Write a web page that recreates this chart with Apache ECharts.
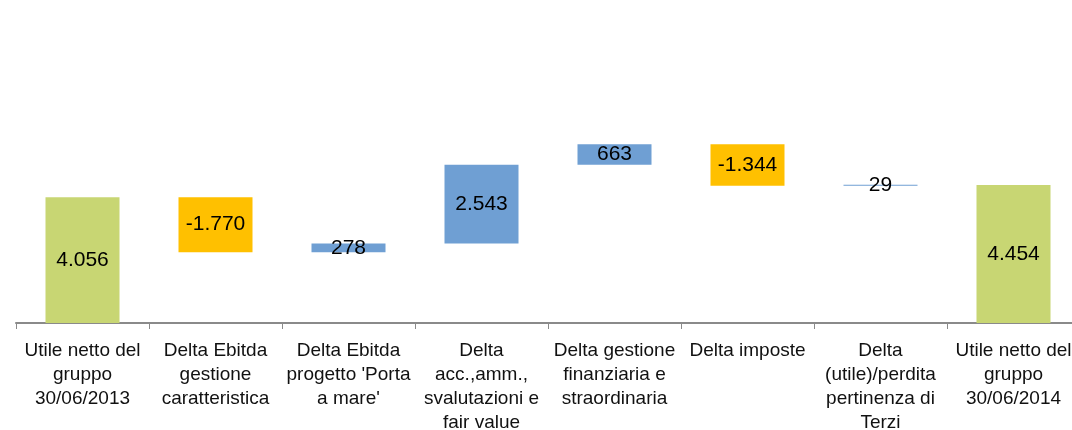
<!DOCTYPE html>
<html>
<head>
<meta charset="utf-8">
<script src="https://cdn.jsdelivr.net/npm/echarts@6/dist/echarts.min.js"></script>
<style>
  html, body { margin: 0; padding: 0; background: #fff; }
  #chart { width: 1072px; height: 430px; }
</style>
</head>
<body>
<div id="chart"></div>
<script>
// voci del ponte utile netto
const categories = [
  'Utile netto del\ngruppo\n30/06/2013',
  'Delta Ebitda\ngestione\ncaratteristica',
  "Delta Ebitda\nprogetto 'Porta\na mare'",
  'Delta\nacc.,amm.,\nsvalutazioni e\nfair value',
  'Delta gestione\nfinanziaria e\nstraordinaria',
  'Delta imposte',
  'Delta\n(utile)/perdita\npertinenza di\nTerzi',
  'Utile netto del\ngruppo\n30/06/2014',
]
const values = [4056, -1770, 278, 2543, 663, -1344, 29, 4454]
// le colonne di totale partono da zero
const totals = [true, false, false, false, false, false, false, true]

const colors = {
  total: '#C8D673',
  up: '#6F9FD3',
  down: '#FFC000',
}

// base trasparente + altezza visibile
const base = []
const bars = []
let cum = 0
values.forEach((v, i) => {
  if (totals[i]) {
    base.push(0)
    cum = v
  } else {
    base.push(v < 0 ? cum + v : cum)
    cum += v
  }
  bars.push({
    value: Math.abs(v),
    itemStyle: { color: totals[i] ? colors.total : (v < 0 ? colors.down : colors.up) },
  })
})

const fmt = v => {
  const s = Math.abs(v).toString().replace(/\B(?=(\d{3})+(?!\d))/g, '.')
  return (v < 0 ? '-' : '') + s
}

const font = '"Liberation Sans", Arial, sans-serif'

const chart = echarts.init(document.getElementById('chart'))
chart.setOption({
  animation: false,
  grid: { left: 16, top: 13, width: 1064, bottom: 107, outerBoundsMode: 'none', containLabel: false },
  xAxis: {
    type: 'category',
    data: categories,
    axisLine: { lineStyle: { color: '#8a8a8a', width: 2 } },
    axisTick: { show: true, length: 6, lineStyle: { color: '#8a8a8a', width: 1 } },
    axisLabel: {
      interval: 0,
      margin: 16,
      color: '#111',
      fontFamily: font,
      fontSize: 19,
      lineHeight: 24,
    },
  },
  yAxis: { type: 'value', min: 0, max: 10000, show: false },
  series: [
    {
      type: 'bar',
      stack: 'w',
      data: base,
      itemStyle: { color: 'transparent' },
      silent: true,
      barWidth: 74,
    },
    {
      type: 'bar',
      stack: 'w',
      data: bars,
      barWidth: 74,
      barMinHeight: 1,
      label: {
        show: true,
        position: 'inside',
        color: '#000',
        fontFamily: font,
        fontSize: 21,
        formatter: p => fmt(values[p.dataIndex]),
      },
    },
  ],
})
</script>
</body>
</html>
